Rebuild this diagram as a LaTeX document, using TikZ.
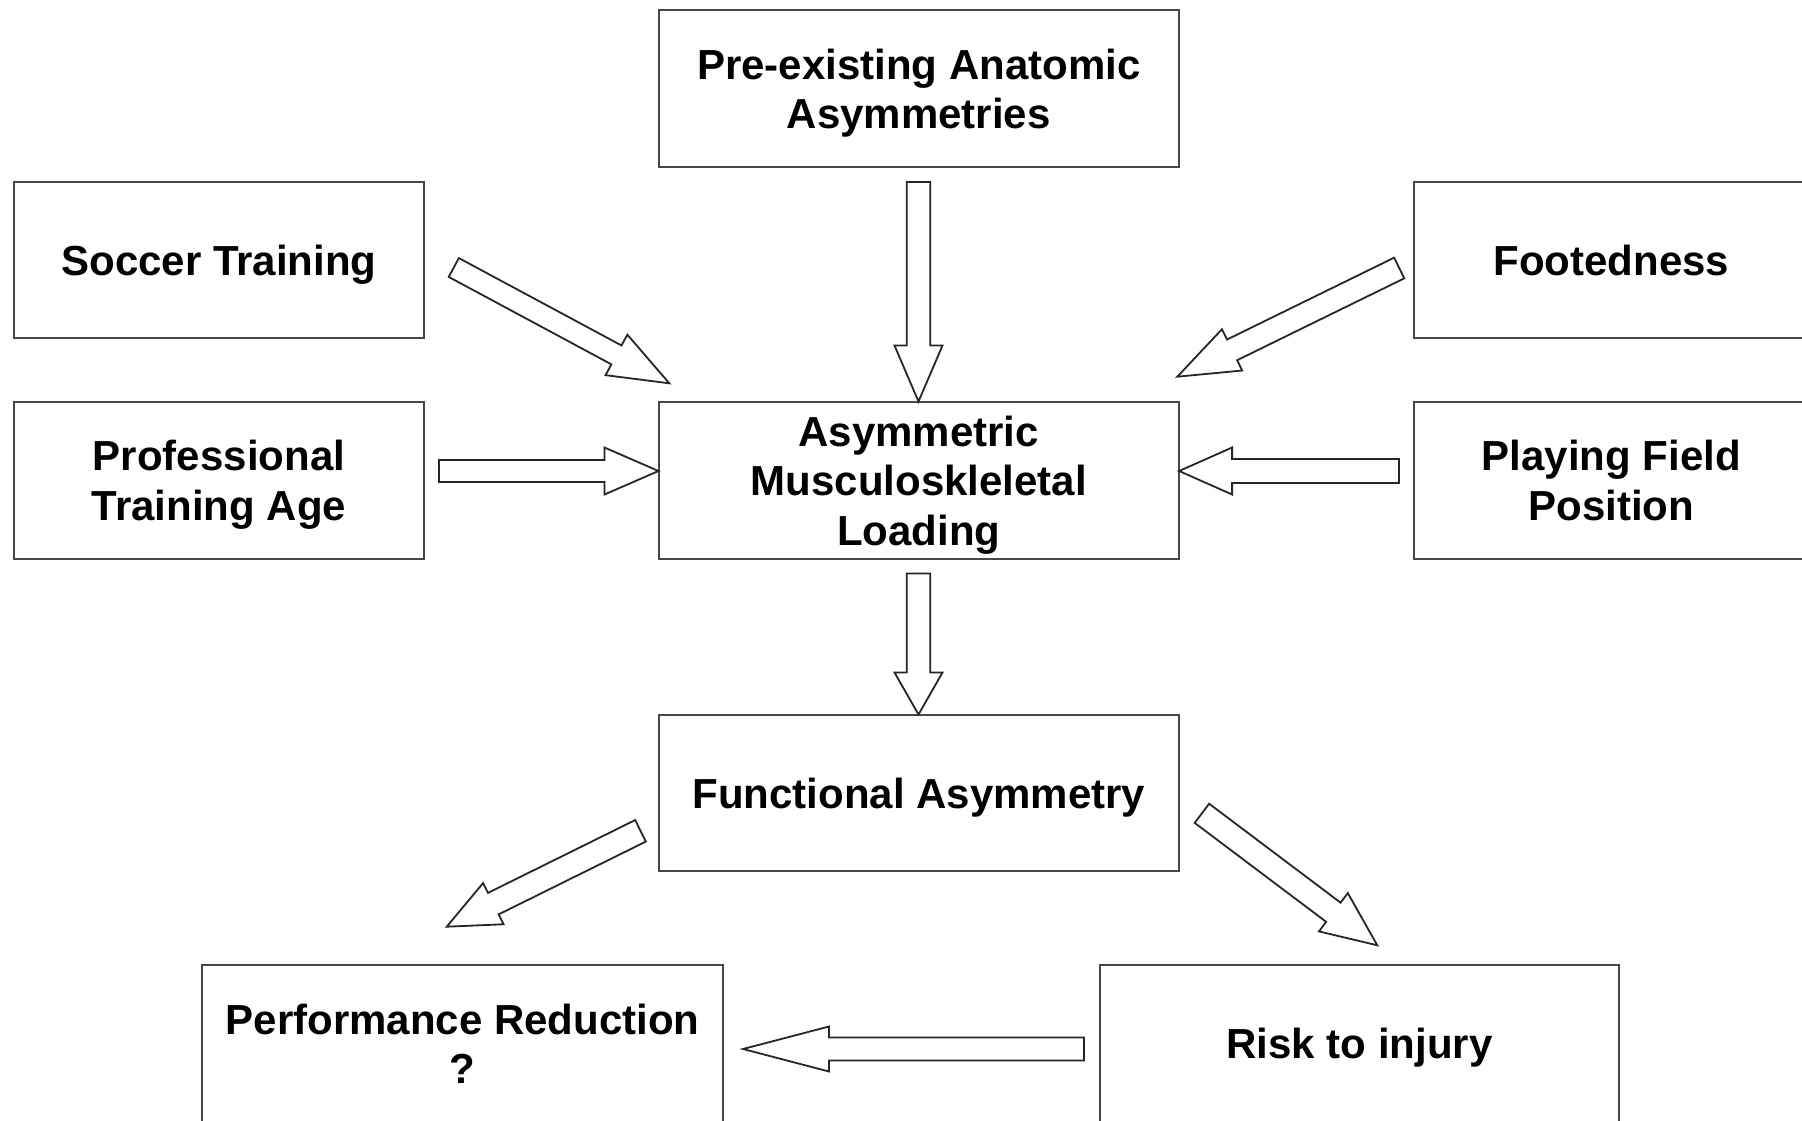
\documentclass[tikz,border=0pt]{standalone}
\usepackage{fontspec}
\setmainfont{Liberation Sans}
\usetikzlibrary{calc}
\tikzset{
  box/.style={draw=black!72, line width=2pt, rectangle, inner sep=0pt,
    minimum width=520.6pt, minimum height=156.3pt, align=center, text depth=0pt,
    font=\fontsize{42}{49.4}\selectfont\bfseries, text=black},
  barrow/.style={draw=black!85, line width=1.8pt, fill=white, line join=miter},
}
\newcommand\blockarr[5]{%
  \coordinate (hb) at ($(#2)!#5!(#1)$);
  \draw[barrow] ($(#1)!#3!90:(#2)$) -- ($(hb)!#3!90:(#2)$) -- ($(hb)!#4!90:(#2)$)
    -- (#2) -- ($(hb)!#4!-90:(#2)$) -- ($(hb)!#3!-90:(#2)$) -- ($(#1)!#3!-90:(#2)$) -- cycle;}
\begin{document}
\begin{tikzpicture}[x=1pt,y=-1pt]
\useasboundingbox (0,0) rectangle (1802,1120);
\fill[white] (0,0) rectangle (1802,1120);
\clip (0,0) rectangle (1802,1120);
% boxes
\node[box] (top) at (918.8,88.5) {Pre-existing Anatomic\\Asymmetries};
\node[box, minimum width=410.3pt] (soccer) at (219,259.8) {Soccer Training};
\node[box, minimum width=395.5pt] (foot) at (1611.3,259.8) {Footedness};
\node[box, minimum width=410.3pt] (prof) at (219,480.4) {Professional\\Training Age};
\node[box] (load) at (918.8,480.4) {Asymmetric\\Musculoskleletal\\Loading};
\node[box, minimum width=395.5pt] (play) at (1611.3,480.4) {Playing Field\\Position};
\node[box] (func) at (918.8,793) {Functional Asymmetry};
\node[box] (perf) at (462.6,1043.5) {Performance Reduction\\?};
\node[box, minimum width=519.4pt] (risk) at (1359.5,1043.5) {Risk to injury};
% arrow end points
\coordinate (s1) at (453.8,267.5);   \coordinate (e1) at (669.3,383.3);
\coordinate (s2) at (918.5,182);     \coordinate (e2) at (918.5,401.5);
\coordinate (s3) at (1399.2,268);    \coordinate (e3) at (1177.3,376.7);
\coordinate (s4) at (439,471);       \coordinate (e4) at (658.5,471);
\coordinate (s5) at (1399,471);      \coordinate (e5) at (1179.1,471);
\coordinate (s6) at (918.5,573.4);   \coordinate (e6) at (918.5,714.5);
\coordinate (s7) at (640.5,830.8);   \coordinate (e7) at (446.7,926.7);
\coordinate (s8) at (1201.9,813.3);  \coordinate (e8) at (1377.3,945.3);
\coordinate (s9) at (1084,1049);     \coordinate (e9) at (743,1049);
% block arrows
\blockarr{s1}{e1}{10.7pt}{23pt}{60pt}
\blockarr{s2}{e2}{11.8pt}{24pt}{56pt}
\blockarr{s3}{e3}{11.5pt}{23pt}{61pt}
\blockarr{s4}{e4}{11pt}{23.5pt}{54pt}
\blockarr{s5}{e5}{12pt}{23.5pt}{53pt}
\blockarr{s6}{e6}{11.8pt}{24pt}{42pt}
\blockarr{s7}{e7}{12pt}{23pt}{52pt}
\blockarr{s8}{e8}{12pt}{24pt}{55pt}
\blockarr{s9}{e9}{11.5pt}{22.5pt}{86pt}
\end{tikzpicture}
\end{document}
